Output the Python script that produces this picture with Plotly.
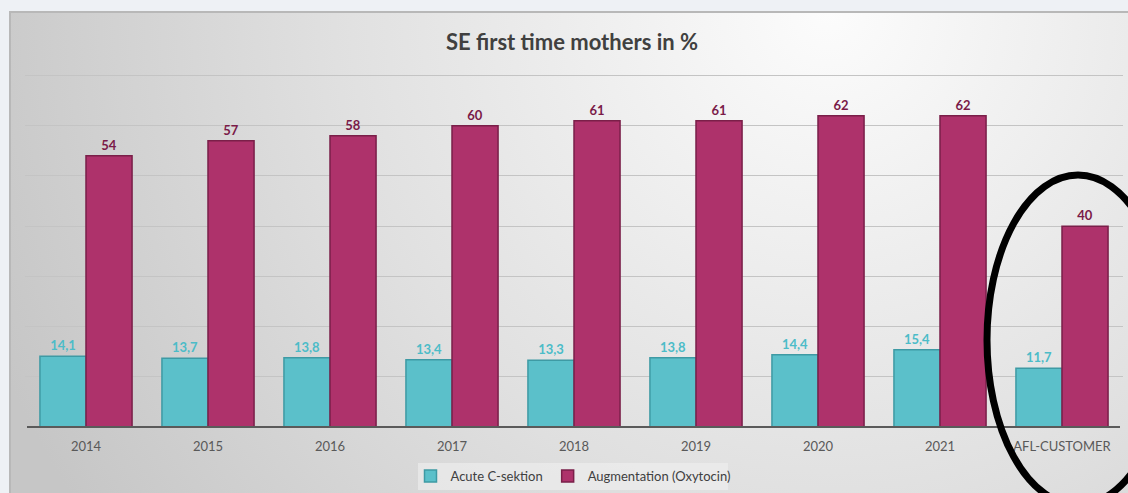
import base64
import plotly.graph_objects as go

categories = ["2014", "2015", "2016", "2017", "2018", "2019", "2020", "2021", "AFL-CUSTOMER"]
acute_c_section = [14.1, 13.7, 13.8, 13.4, 13.3, 13.8, 14.4, 15.4, 11.7]
augmentation = [54, 57, 58, 60, 61, 61, 62, 62, 40]
series_names = ["Acute C-sektion", "Augmentation (Oxytocin)"]
title_text = "SE first time mothers in %"

W, H = 1128, 493
ML, MR, MT, MB = 25, 5, 74, 66
PW = W - ML - MR
PH = H - MT - MB


def px_x(p):
    return (p - ML) / PW


def px_y(p):
    return (H - MB - p) / PH


FONT = "Lato, 'Open Sans', sans-serif"
TEAL = "#5bc0ca"
TEAL_LINE = "#3e9aa4"
TEAL_TXT = "#4cbcc8"
MAG = "#ae326b"
MAG_LINE = "#7a1f49"
MAG_TXT = "#7a1a48"

fig = go.Figure()
fig.add_trace(go.Bar(
    x=categories, y=acute_c_section, name=series_names[0],
    marker=dict(color=TEAL, line=dict(color=TEAL_LINE, width=1.5)),
    text=[f"{v:.1f}".replace(".", ",") for v in acute_c_section],
    textposition="outside", cliponaxis=False,
    textfont=dict(family=FONT, size=13, color=TEAL_TXT, weight="bold"),
))
fig.add_trace(go.Bar(
    x=categories, y=augmentation, name=series_names[1],
    marker=dict(color=MAG, line=dict(color=MAG_LINE, width=1.5)),
    text=[str(v) for v in augmentation],
    textposition="outside", cliponaxis=False,
    textfont=dict(family=FONT, size=13, color=MAG_TXT, weight="bold"),
))

# background panel gradient (style only)
pw_, ph_ = W + 20 - 9, H + 20 - 11
svg = f'''<svg xmlns="http://www.w3.org/2000/svg" width="{pw_}" height="{ph_}" viewBox="0 0 {pw_} {ph_}" preserveAspectRatio="none">
<defs><radialGradient id="g" gradientUnits="userSpaceOnUse" cx="820" cy="0" r="900">
<stop offset="0" stop-color="#fcfcfc"/><stop offset="0.55" stop-color="#e0e0e0"/><stop offset="1" stop-color="#c6c6c6"/>
</radialGradient></defs>
<rect x="1" y="1" width="{pw_ + 10}" height="{ph_ + 10}" fill="url(#g)" stroke="#b8b8b8" stroke-width="2"/>
</svg>'''
src = "data:image/svg+xml;base64," + base64.b64encode(svg.encode()).decode()

fig.add_layout_image(dict(
    source=src, xref="paper", yref="paper",
    x=px_x(9), y=px_y(11), sizex=pw_ / PW, sizey=ph_ / PH,
    xanchor="left", yanchor="top", sizing="stretch", layer="below",
))

# legend background box
fig.add_shape(type="rect", xref="paper", yref="paper",
              x0=px_x(418), x1=px_x(728), y0=px_y(490), y1=px_y(463),
              fillcolor="rgba(240,240,240,0.6)", line=dict(width=0), layer="below")

# baseline
fig.add_shape(type="line", xref="paper", yref="paper",
              x0=px_x(27), x1=px_x(1120), y0=0, y1=0,
              line=dict(color="#5a5a5a", width=2))

# highlight ellipse
fig.add_shape(type="circle", xref="paper", yref="paper",
              x0=px_x(987), x1=px_x(1169), y0=px_y(505), y1=px_y(175),
              line=dict(color="black", width=7), fillcolor="rgba(0,0,0,0)")

fig.update_layout(
    width=W, height=H,
    margin=dict(l=ML, r=MR, t=MT, b=MB, autoexpand=False),
    paper_bgcolor="#eef1f5",
    plot_bgcolor="rgba(0,0,0,0)",
    title=dict(text=title_text, x=px_x(572), xref="paper", xanchor="center",
               y=1 - 42 / H, yanchor="middle",
               font=dict(family=FONT, size=22, color="#404040", weight="bold")),
    barmode="group", bargap=0.245, bargroupgap=0,
    showlegend=True,
    legend=dict(orientation="h", xref="container", yref="container",
                x=573 / W, xanchor="center", y=1 - 476 / H, yanchor="middle",
                font=dict(family=FONT, size=13, color="#404040"),
                bgcolor="rgba(0,0,0,0)", itemwidth=30, traceorder="normal"),
    font=dict(family=FONT),
)
fig.update_xaxes(showgrid=False, showline=False, ticks="", ticklabelstandoff=10,
                 tickfont=dict(family=FONT, size=13, color="#595959"))
fig.update_yaxes(range=[0, 70.3], tickvals=[10, 20, 30, 40, 50, 60, 70],
                 showgrid=True, gridcolor="#c4c4c4", gridwidth=1,
                 showticklabels=False, zeroline=False, showline=False, ticks="")

fig.write_html(
    "out.html",
    config={"displayModeBar": False},
    post_script="document.body.style.margin='0';document.body.style.background='#eef1f5';"
                "document.documentElement.style.overflow='hidden';",
)
